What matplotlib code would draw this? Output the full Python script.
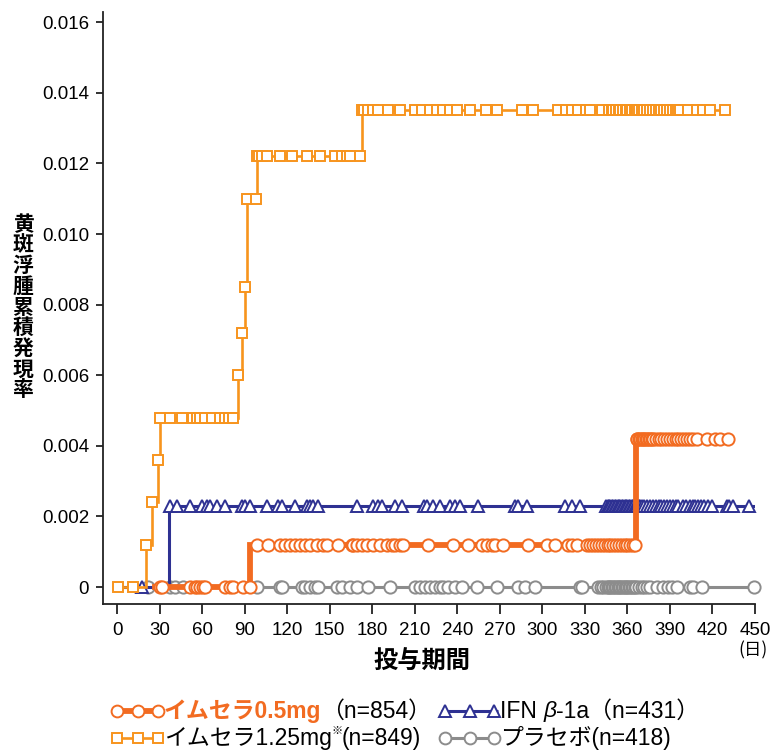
import numpy as np
import matplotlib
matplotlib.use("Agg")
import matplotlib.pyplot as plt

plt.rcParams['font.family'] = ['Liberation Sans', 'Noto Sans CJK JP', 'DejaVu Sans']

# ---------------- data (days, cumulative incidence) ----------------
# Imusera 0.5 mg
t05 = [27, 93.8, 366, 431]
y05 = [0, 0.0012, 0.0042, 0.0042]
c05 = [30.3, 31.7, 51.5, 55, 56.4, 58.5, 60.6, 62, 76.2, 79.7, 81.8, 88.9,
       93.5, 98.7, 106.3, 114.7, 118.2, 121.8, 125.3, 128.8, 132.4, 135.9, 140.8,
       145, 148, 155.8, 165.6, 166.3, 169.2, 172.7, 176.2, 180.5, 185.4, 190.4,
       193.9, 196, 199.6, 201.7, 219.3, 237, 247.5, 257.4, 260.9, 264.4, 266.5,
       272.2, 289.9, 303.3, 309, 318.1, 320.9, 324.5, 331.5, 333.7, 335.8,
       338, 340, 342, 344, 346, 348, 350, 352, 354, 356, 358, 360, 362, 364, 365,
       366.5, 367, 368, 369, 370, 371, 372, 373, 374, 375, 376, 377, 378, 380, 382,
       384, 386, 388, 390, 392, 394, 396, 398, 400, 402, 404, 406, 409, 416, 422,
       425, 431]

# Imusera 1.25 mg
t125 = [0, 20.5, 24.6, 28.9, 30.3, 85.3, 88.2, 89.9, 91.3, 98.5, 172.8, 428.8]
y125 = [0, 0.0012, 0.0024, 0.0036, 0.0048, 0.0060, 0.0072, 0.0085, 0.0110,
        0.0122, 0.0135, 0.0135]
c125 = [0.5, 11, 20.6, 24.7, 29.0, 30.4, 37.4, 45.8, 53.6, 56.4, 58.5, 62, 67,
        72.6, 76, 79, 82, 85.4, 88.3, 90.0, 91.4, 97.6, 98.6, 100, 102, 105.8,
        115, 123.4, 134, 143, 153.7, 158.7, 162, 164, 171, 172.9, 174, 177, 180.5,
        184, 191, 199.6, 210, 215, 221, 225.6, 230, 235, 240, 249, 260, 268,
        285.6, 293.4, 311, 317, 321, 325, 331, 333.6, 342,
        347, 349, 350, 352, 354, 355, 357, 359, 360, 362, 363, 365, 366, 367,
        368, 370, 372, 374, 376, 378, 380, 382, 384, 386, 388, 390, 392, 394,
        396, 397, 402.5, 409, 413, 418, 428.8]

# IFN beta-1a
tifn = [0, 36.7, 450]
yifn = [0, 0.0023, 0.0023]
cifn = [17.6, 37.4, 42.3, 51.5, 60, 63.5, 65.6, 70.5, 76.2, 88.2, 90.3, 93.8,
        105.8, 113.6, 116.4, 125.5, 134, 136, 138, 141.8, 169.3, 180.6, 184, 187,
        196, 201, 216.5, 218.7, 222.9, 227.8, 235, 238.4, 242, 254.6, 280.7,
        282.8, 289, 316, 321, 326.6,
        345, 346, 347, 348, 349, 350, 351, 352, 353, 354, 355, 356, 357, 358,
        359, 360, 361, 362, 363, 364, 365, 366, 367, 368, 369, 370, 372, 374,
        376, 378, 380, 382, 384, 386, 388, 390, 392, 394, 396,
        399, 401, 404, 406, 408, 410, 412, 414, 417, 420, 430, 432, 434.5, 446]

# Placebo
tpla = [0, 450]
ypla = [0, 0]
cpla = [21.9, 37, 41, 46.5, 98.7, 115, 116.4, 130.5, 132.6, 136, 139.7, 141.8,
        155, 158.7, 164.3, 169.3, 177, 192.5, 210, 213.7, 217.2, 220.8, 224.3,
        227.8, 230, 233.5, 238.4, 243.3, 254, 268, 282.8, 287.8, 294.8, 326.6,
        328, 339, 341, 343, 345, 346, 347, 348, 349, 350, 351, 352, 353, 354,
        355, 356, 357, 358, 359, 360, 361, 362, 363, 364, 365, 366, 368, 370,
        372, 374, 376, 381, 385, 388.6, 391.4, 395, 404, 406, 412.6, 449]

xticks = list(range(0, 451, 30))
yticks = [0, 0.002, 0.004, 0.006, 0.008, 0.010, 0.012, 0.014, 0.016]
yticklabels = ['0', '0.002', '0.004', '0.006', '0.008', '0.010', '0.012', '0.014', '0.016']

C05 = '#F26B21'
C125 = '#F7941D'
CIFN = '#2E3192'
CPLA = '#8C8C8C'


def level_at(times, ts, ys):
    ts = np.asarray(ts)
    ys = np.asarray(ys)
    idx = np.clip(np.searchsorted(ts, np.asarray(times), side='right') - 1, 0, None)
    return ys[idx]


W, H = 771, 750
fig = plt.figure(figsize=(W / 100, H / 100), dpi=100)
ax = fig.add_axes([103 / W, 1 - 604 / H, (755 - 103) / W, (604 - 12) / H])

series = [
    (tpla, ypla, cpla, CPLA, 2.2, 'o', 8.8, 1),
    (tifn, yifn, cifn, CIFN, 2.2, '^', 9.0, 2),
    (t05, y05, c05, C05, 4.2, 'o', 8.8, 3),
    (t125, y125, c125, C125, 1.9, 's', 7.8, 4),
]
for ts, ys, cs, col, lw, mk, ms, z in series:
    ax.step(ts, ys, where='post', color=col, lw=lw, zorder=z, solid_joinstyle='miter')
    ax.plot(cs, level_at(cs, ts, ys), ls='none', marker=mk, ms=ms, mfc='white',
            mec=col, mew=1.4, zorder=z + 0.5, clip_on=False)

ax.set_xlim(-10, 450)
ax.set_ylim(-0.00048, 0.01629)
ax.set_xticks(xticks)
ax.set_xticklabels([str(v) for v in xticks])
ax.set_yticks(yticks)
ax.set_yticklabels(yticklabels)
for s in ['top', 'right']:
    ax.spines[s].set_visible(False)
for s in ['left', 'bottom']:
    ax.spines[s].set_linewidth(1.3)
    ax.spines[s].set_color('#222222')
ax.tick_params(axis='x', direction='out', length=7, width=1.3, pad=6, labelsize=13.5, colors='#222222')
ax.tick_params(axis='y', direction='out', length=5, width=1.3, pad=5, labelsize=13.5, colors='#222222')
for lab in ax.get_xticklabels() + ax.get_yticklabels():
    lab.set_color('black')

# overlay for labels and legend in pixel coordinates
ov = fig.add_axes([0, 0, 1, 1])
ov.set_xlim(0, W)
ov.set_ylim(H, 0)
ov.axis('off')
ov.patch.set_alpha(0)

cjk = ['Noto Sans CJK JP', 'DejaVu Sans']
ylab = '黄斑浮腫累積発現率'
ov.text(23, 307, '\n'.join(ylab), ha='center', va='center', fontsize=15,
        fontweight='bold', family=cjk, linespacing=0.98)
ov.text(422, 662, '投与期間', ha='center', va='center', fontsize=17.5,
        fontweight='bold', family=cjk)
ov.text(753, 650, '(日)', ha='center', va='center', fontsize=12.5, family=cjk)

# legend handles
def handle(x0, x1, y, col, lw, mk, ms):
    ov.plot([x0, x1], [y, y], color=col, lw=lw, solid_capstyle='butt')
    xs = [x0 + 4, (x0 + x1) / 2, x1 - 4]
    ov.plot(xs, [y] * 3, ls='none', marker=mk, ms=ms, mfc='white', mec=col, mew=1.4)

handle(113, 162, 711, C05, 4.2, 'o', 8.5)
handle(441, 498, 711, CIFN, 2.2, '^', 8.5)
handle(113, 162, 738, C125, 1.9, 's', 7.8)
handle(441, 498, 738, CPLA, 2.2, 'o', 8.5)

fig.canvas.draw()
renderer = fig.canvas.get_renderer()
inv = ov.transData.inverted()


def chain(x, y, pieces):
    for txt, kw in pieces:
        t = ov.text(x, y, txt, ha='left', va='center', **kw)
        bb = t.get_window_extent(renderer)
        x = inv.transform((bb.x1, bb.y0))[0]
    return x

fam = ['Liberation Sans', 'Noto Sans CJK JP']
fs = 16.5
chain(164, 711, [('イムセラ0.5mg', dict(fontsize=fs, color=C05, fontweight='bold', family=fam)),
                 ('（n=854）', dict(fontsize=fs, color='black', family=fam))])
chain(500, 711, [('IFN ', dict(fontsize=fs, color='black', family=fam)),
                 ('β', dict(fontsize=fs, color='black', family=fam, style='italic')),
                 ('-1a（n=431）', dict(fontsize=fs, color='black', family=fam))])
x = chain(164, 738, [('イムセラ1.25mg', dict(fontsize=fs, color='black', family=fam))])
ov.text(x, 731, '※', ha='left', va='center', fontsize=8, family=cjk)
chain(x + 10, 738, [('(n=849)', dict(fontsize=fs, color='black', family=fam))])
chain(500, 738, [('プラセボ(n=418)', dict(fontsize=fs, color='black', family=fam))])

fig.savefig('out.png', dpi=100)
